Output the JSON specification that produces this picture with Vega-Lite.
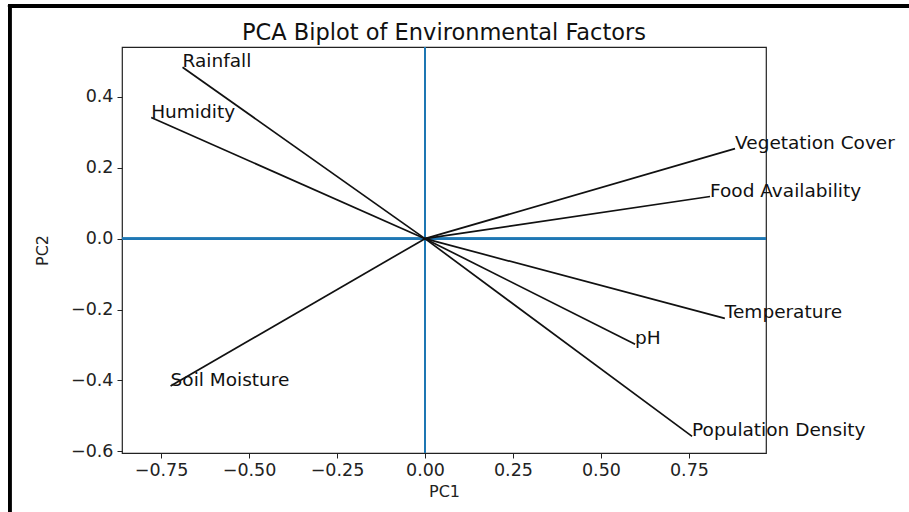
{
  "$schema": "https://vega.github.io/schema/vega-lite/v6.json",
  "autosize": {"type": "none"},
  "width": 644,
  "height": 406,
  "padding": {"left": 122, "top": 47, "right": 143, "bottom": 59},
  "background": "white",
  "config": {
    "font": "DejaVu Sans",
    "view": {"stroke": "#222222", "strokeWidth": 1.2},
    "axis": {
      "domain": false,
      "grid": false,
      "tickColor": "#222222",
      "tickSize": 5,
      "tickWidth": 1,
      "labelFont": "DejaVu Sans",
      "labelFontSize": 17.5,
      "labelColor": "#222222",
      "titleFont": "DejaVu Sans",
      "titleFontSize": 16,
      "titleFontWeight": "normal",
      "titleColor": "#222222"
    }
  },
  "title": {
    "text": "PCA Biplot of Environmental Factors",
    "font": "DejaVu Sans",
    "fontSize": 22.5,
    "fontWeight": "normal",
    "color": "#111111",
    "anchor": "middle",
    "offset": 5,
    "dy": 47
  },
  "data": {
    "values": [
      {"name": "Rainfall", "ox": 0, "oy": 0, "pc1": -0.689, "pc2": 0.484},
      {"name": "Humidity", "ox": 0, "oy": 0, "pc1": -0.778, "pc2": 0.342},
      {"name": "Vegetation Cover", "ox": 0, "oy": 0, "pc1": 0.881, "pc2": 0.254},
      {"name": "Food Availability", "ox": 0, "oy": 0, "pc1": 0.81, "pc2": 0.119},
      {"name": "Temperature", "ox": 0, "oy": 0, "pc1": 0.852, "pc2": -0.225},
      {"name": "pH", "ox": 0, "oy": 0, "pc1": 0.597, "pc2": -0.298},
      {"name": "Population Density", "ox": 0, "oy": 0, "pc1": 0.759, "pc2": -0.558},
      {"name": "Soil Moisture", "ox": 0, "oy": 0, "pc1": -0.723, "pc2": -0.416}
    ]
  },
  "layer": [
    {
      "mark": {"type": "rule", "color": "#1f77b4", "strokeWidth": 1.6},
      "encoding": {
        "y": {
          "datum": 0,
          "type": "quantitative",
          "scale": {"domain": [-0.605, 0.541], "nice": false, "zero": false},
          "axis": {"title": "PC2", "values": [-0.6, -0.4, -0.2, 0, 0.2, 0.4], "format": ".1f", "titlePadding": 20, "labelPadding": 4}
        }
      }
    },
    {
      "mark": {"type": "rule", "color": "#1f77b4", "strokeWidth": 1.6},
      "encoding": {
        "x": {
          "datum": 0,
          "type": "quantitative",
          "scale": {"domain": [-0.861, 0.969], "nice": false, "zero": false},
          "axis": {"title": "PC1", "values": [-0.75, -0.5, -0.25, 0, 0.25, 0.5, 0.75], "format": ".2f", "titlePadding": 5, "labelPadding": 3}
        }
      }
    },
    {
      "mark": {"type": "rule", "color": "#111111", "strokeWidth": 1.7},
      "encoding": {
        "x": {"field": "ox", "type": "quantitative"},
        "y": {"field": "oy", "type": "quantitative"},
        "x2": {"field": "pc1"},
        "y2": {"field": "pc2"}
      }
    },
    {
      "mark": {"type": "text", "align": "left", "baseline": "alphabetic", "fontSize": 18.5, "color": "#111111", "font": "DejaVu Sans"},
      "encoding": {
        "x": {"field": "pc1", "type": "quantitative"},
        "y": {"field": "pc2", "type": "quantitative"},
        "text": {"field": "name"}
      }
    },
    {
      "mark": {"type": "rule", "color": "#000000", "strokeWidth": 3, "clip": false},
      "encoding": {
        "x": {"datum": -1.185, "type": "quantitative"},
        "x2": {"datum": 1.4},
        "y": {"datum": 0.657, "type": "quantitative"}
      }
    },
    {
      "mark": {"type": "rule", "color": "#000000", "strokeWidth": 3, "clip": false},
      "encoding": {
        "x": {"datum": -1.18, "type": "quantitative"},
        "y": {"datum": 0.661, "type": "quantitative"},
        "y2": {"datum": -0.8}
      }
    }
  ]
}
